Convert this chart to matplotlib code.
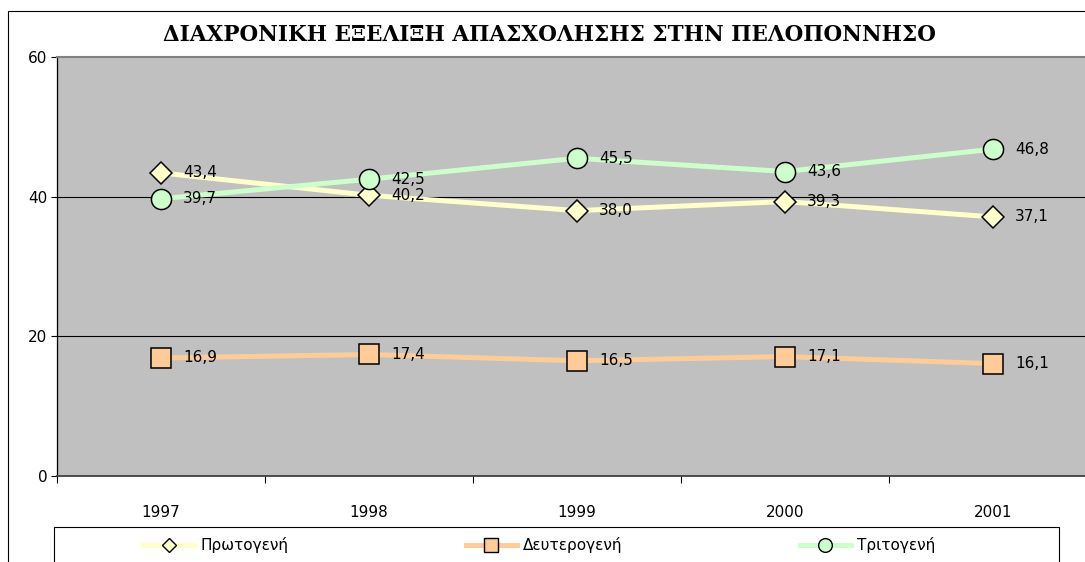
import matplotlib
matplotlib.use("Agg")
import matplotlib.pyplot as plt
from matplotlib.patches import Rectangle
from matplotlib.lines import Line2D

# Δεδομένα απασχόλησης (%)
years = ["1997", "1998", "1999", "2000", "2001"]
protogeni = [43.4, 40.2, 38.0, 39.3, 37.1]
defterogeni = [16.9, 17.4, 16.5, 17.1, 16.1]
tritogeni = [39.7, 42.5, 45.5, 43.6, 46.8]
series_names = ["Πρωτογενή", "Δευτερογενή", "Τριτογενή"]
y_ticks = [0, 20, 40, 60]

W, H = 1085, 562
fig = plt.figure(figsize=(W / 100, H / 100), dpi=100)
fig.patch.set_facecolor("white")

ax = fig.add_axes([57 / W, (H - 476) / H, 1040 / W, 419 / H])
ax.set_facecolor("#C0C0C0")

styles = [
    dict(color="#FFFFCC", marker="D", ms=11),
    dict(color="#FFCC99", marker="s", ms=15),
    dict(color="#CCFFCC", marker="o", ms=14.5),
]
xs = list(range(len(years)))
for vals, st in zip([protogeni, defterogeni, tritogeni], styles):
    ax.plot(xs, vals, color=st["color"], lw=3.6, marker=st["marker"], ms=st["ms"],
            markerfacecolor=st["color"], markeredgecolor="black", markeredgewidth=1.1,
            zorder=3)
    for x, v in zip(xs, vals):
        ax.annotate(f"{v:.1f}".replace(".", ","), (x, v), xytext=(16, 0),
                    textcoords="offset points", va="center", ha="left",
                    fontsize=11, color="black", zorder=4)

ax.set_xlim(-0.5, len(years) - 0.5)
ax.set_ylim(0, 60)
ax.set_yticks(y_ticks)
ax.set_yticklabels([str(t) for t in y_ticks], fontsize=11)
ax.tick_params(axis="y", direction="out", length=4, width=0.8, pad=3)
for t in y_ticks[1:-1]:
    ax.axhline(t, color="black", lw=0.8, zorder=1)

ax.set_xticks([i - 0.5 for i in range(len(years) + 1)])
ax.set_xticklabels([])
ax.set_xticks(xs, minor=True)
ax.set_xticklabels(years, minor=True, fontsize=11)
ax.tick_params(axis="x", which="major", direction="out", length=5, width=0.8)
ax.tick_params(axis="x", which="minor", length=0, pad=21)

ax.spines["top"].set_color("#808080")
ax.spines["top"].set_linewidth(1.5)
ax.spines["right"].set_visible(False)
ax.spines["left"].set_color("black")
ax.spines["left"].set_linewidth(0.9)
ax.spines["bottom"].set_color("#404040")
ax.spines["bottom"].set_linewidth(1.3)

fig.text(549 / W, 1 - 35 / H, "ΔΙΑΧΡΟΝΙΚΗ ΕΞΕΛΙΞΗ ΑΠΑΣΧΟΛΗΣΗΣ ΣΤΗΝ ΠΕΛΟΠΟΝΝΗΣΟ",
         ha="center", va="center", fontsize=15.5, fontweight="bold",
         family="DejaVu Serif")

# Περίγραμμα γραφήματος
fig.patches.append(Rectangle((8 / W, -0.1), 1.2, 1.1 - 11 / H, transform=fig.transFigure,
                             fill=False, edgecolor="black", lw=0.8))
# Πλαίσιο υπομνήματος
fig.patches.append(Rectangle((54 / W, -0.1), (1059 - 54) / W, 0.1 + (H - 527) / H,
                             transform=fig.transFigure, fill=False,
                             edgecolor="black", lw=0.8))

handles = [Line2D([], [], color=st["color"], lw=3.6, marker=st["marker"],
                  ms=st["ms"] * 0.68, markerfacecolor=st["color"],
                  markeredgecolor="black", markeredgewidth=1.0) for st in styles]
fig.legend(handles, series_names, loc="center left", ncol=3,
           bbox_to_anchor=(143 / W, 1 - 545 / H), frameon=False, fontsize=11,
           handlelength=3.4, handletextpad=0.35, columnspacing=11.6,
           borderpad=0, borderaxespad=0)

fig.savefig("out.png", dpi=100)
